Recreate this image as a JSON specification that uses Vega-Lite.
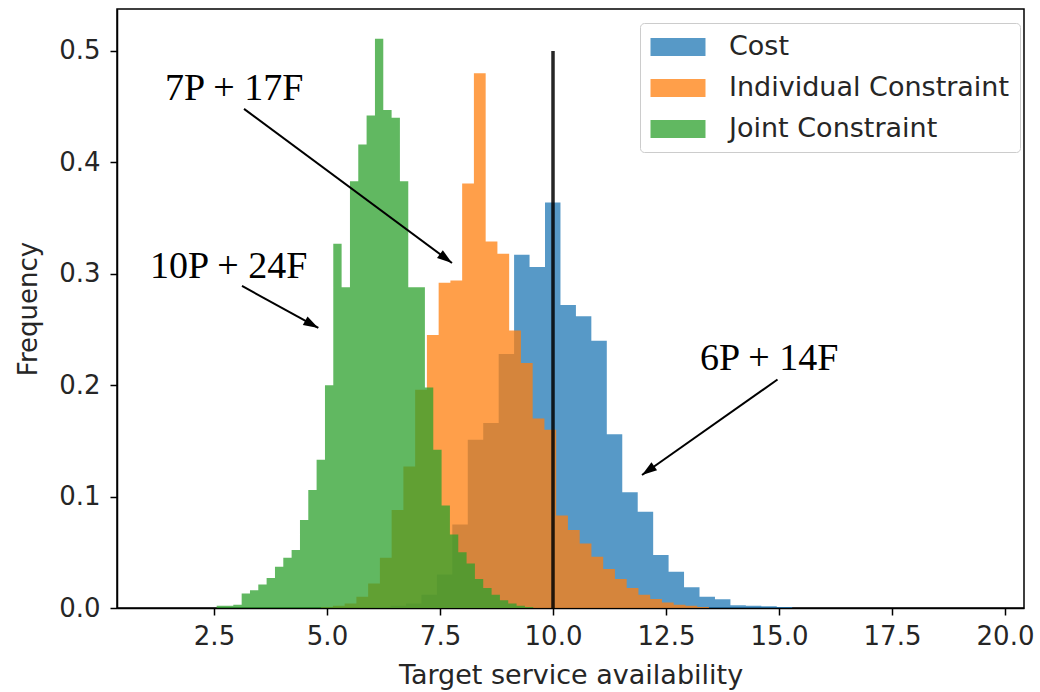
{
  "$schema": "https://vega.github.io/schema/vega-lite/v6.json",
  "width": 907,
  "height": 599,
  "autosize": {"type": "none"},
  "padding": {"left": 117, "top": 9, "right": 16, "bottom": 84},
  "background": "white",
  "datasets": {
    "hist": [
      {"series": "Cost", "start": 5.722, "end": 6.063, "freq": 0.0005},
      {"series": "Cost", "start": 6.063, "end": 6.405, "freq": 0.001},
      {"series": "Cost", "start": 6.405, "end": 6.747, "freq": 0.002},
      {"series": "Cost", "start": 6.747, "end": 7.089, "freq": 0.004},
      {"series": "Cost", "start": 7.089, "end": 7.431, "freq": 0.012},
      {"series": "Cost", "start": 7.431, "end": 7.772, "freq": 0.03},
      {"series": "Cost", "start": 7.772, "end": 8.114, "freq": 0.075},
      {"series": "Cost", "start": 8.114, "end": 8.456, "freq": 0.151},
      {"series": "Cost", "start": 8.456, "end": 8.798, "freq": 0.166},
      {"series": "Cost", "start": 8.798, "end": 9.139, "freq": 0.228},
      {"series": "Cost", "start": 9.139, "end": 9.481, "freq": 0.317},
      {"series": "Cost", "start": 9.481, "end": 9.823, "freq": 0.306},
      {"series": "Cost", "start": 9.823, "end": 10.165, "freq": 0.364},
      {"series": "Cost", "start": 10.165, "end": 10.507, "freq": 0.272},
      {"series": "Cost", "start": 10.507, "end": 10.848, "freq": 0.262},
      {"series": "Cost", "start": 10.848, "end": 11.19, "freq": 0.24},
      {"series": "Cost", "start": 11.19, "end": 11.532, "freq": 0.156},
      {"series": "Cost", "start": 11.532, "end": 11.874, "freq": 0.104},
      {"series": "Cost", "start": 11.874, "end": 12.216, "freq": 0.0865},
      {"series": "Cost", "start": 12.216, "end": 12.557, "freq": 0.0476},
      {"series": "Cost", "start": 12.557, "end": 12.899, "freq": 0.0326},
      {"series": "Cost", "start": 12.899, "end": 13.241, "freq": 0.0186},
      {"series": "Cost", "start": 13.241, "end": 13.583, "freq": 0.0101},
      {"series": "Cost", "start": 13.583, "end": 13.925, "freq": 0.0078},
      {"series": "Cost", "start": 13.925, "end": 14.266, "freq": 0.0025},
      {"series": "Cost", "start": 14.266, "end": 14.608, "freq": 0.002},
      {"series": "Cost", "start": 14.608, "end": 14.95, "freq": 0.0015},
      {"series": "Cost", "start": 14.95, "end": 15.292, "freq": 0.0008},
      {"series": "Individual Constraint", "start": 4.87, "end": 5.13, "freq": 0.001},
      {"series": "Individual Constraint", "start": 5.13, "end": 5.39, "freq": 0.002},
      {"series": "Individual Constraint", "start": 5.39, "end": 5.65, "freq": 0.004},
      {"series": "Individual Constraint", "start": 5.65, "end": 5.91, "freq": 0.01},
      {"series": "Individual Constraint", "start": 5.91, "end": 6.17, "freq": 0.022},
      {"series": "Individual Constraint", "start": 6.17, "end": 6.43, "freq": 0.045},
      {"series": "Individual Constraint", "start": 6.43, "end": 6.69, "freq": 0.088},
      {"series": "Individual Constraint", "start": 6.69, "end": 6.95, "freq": 0.127},
      {"series": "Individual Constraint", "start": 6.95, "end": 7.21, "freq": 0.196},
      {"series": "Individual Constraint", "start": 7.21, "end": 7.47, "freq": 0.245},
      {"series": "Individual Constraint", "start": 7.47, "end": 7.73, "freq": 0.292},
      {"series": "Individual Constraint", "start": 7.73, "end": 7.99, "freq": 0.294},
      {"series": "Individual Constraint", "start": 7.99, "end": 8.25, "freq": 0.381},
      {"series": "Individual Constraint", "start": 8.25, "end": 8.51, "freq": 0.48},
      {"series": "Individual Constraint", "start": 8.51, "end": 8.77, "freq": 0.329},
      {"series": "Individual Constraint", "start": 8.77, "end": 9.03, "freq": 0.318},
      {"series": "Individual Constraint", "start": 9.03, "end": 9.29, "freq": 0.249},
      {"series": "Individual Constraint", "start": 9.29, "end": 9.55, "freq": 0.22},
      {"series": "Individual Constraint", "start": 9.55, "end": 9.81, "freq": 0.17},
      {"series": "Individual Constraint", "start": 9.81, "end": 10.07, "freq": 0.16},
      {"series": "Individual Constraint", "start": 10.07, "end": 10.33, "freq": 0.083},
      {"series": "Individual Constraint", "start": 10.33, "end": 10.59, "freq": 0.07},
      {"series": "Individual Constraint", "start": 10.59, "end": 10.85, "freq": 0.058},
      {"series": "Individual Constraint", "start": 10.85, "end": 11.11, "freq": 0.046},
      {"series": "Individual Constraint", "start": 11.11, "end": 11.37, "freq": 0.035},
      {"series": "Individual Constraint", "start": 11.37, "end": 11.63, "freq": 0.026},
      {"series": "Individual Constraint", "start": 11.63, "end": 11.89, "freq": 0.018},
      {"series": "Individual Constraint", "start": 11.89, "end": 12.15, "freq": 0.012},
      {"series": "Individual Constraint", "start": 12.15, "end": 12.41, "freq": 0.008},
      {"series": "Individual Constraint", "start": 12.41, "end": 12.67, "freq": 0.005},
      {"series": "Individual Constraint", "start": 12.67, "end": 12.93, "freq": 0.003},
      {"series": "Individual Constraint", "start": 12.93, "end": 13.19, "freq": 0.002},
      {"series": "Individual Constraint", "start": 13.19, "end": 13.45, "freq": 0.001},
      {"series": "Joint Constraint", "start": 2.559, "end": 2.743, "freq": 0.002},
      {"series": "Joint Constraint", "start": 2.743, "end": 2.927, "freq": 0.002},
      {"series": "Joint Constraint", "start": 2.927, "end": 3.112, "freq": 0.003},
      {"series": "Joint Constraint", "start": 3.112, "end": 3.296, "freq": 0.013},
      {"series": "Joint Constraint", "start": 3.296, "end": 3.48, "freq": 0.016},
      {"series": "Joint Constraint", "start": 3.48, "end": 3.664, "freq": 0.021},
      {"series": "Joint Constraint", "start": 3.664, "end": 3.849, "freq": 0.027},
      {"series": "Joint Constraint", "start": 3.849, "end": 4.033, "freq": 0.037},
      {"series": "Joint Constraint", "start": 4.033, "end": 4.217, "freq": 0.045},
      {"series": "Joint Constraint", "start": 4.217, "end": 4.402, "freq": 0.052},
      {"series": "Joint Constraint", "start": 4.402, "end": 4.586, "freq": 0.079},
      {"series": "Joint Constraint", "start": 4.586, "end": 4.77, "freq": 0.106},
      {"series": "Joint Constraint", "start": 4.77, "end": 4.955, "freq": 0.133},
      {"series": "Joint Constraint", "start": 4.955, "end": 5.139, "freq": 0.2},
      {"series": "Joint Constraint", "start": 5.139, "end": 5.323, "freq": 0.327},
      {"series": "Joint Constraint", "start": 5.323, "end": 5.508, "freq": 0.288},
      {"series": "Joint Constraint", "start": 5.508, "end": 5.692, "freq": 0.383},
      {"series": "Joint Constraint", "start": 5.692, "end": 5.876, "freq": 0.416},
      {"series": "Joint Constraint", "start": 5.876, "end": 6.061, "freq": 0.442},
      {"series": "Joint Constraint", "start": 6.061, "end": 6.245, "freq": 0.511},
      {"series": "Joint Constraint", "start": 6.245, "end": 6.429, "freq": 0.447},
      {"series": "Joint Constraint", "start": 6.429, "end": 6.613, "freq": 0.44},
      {"series": "Joint Constraint", "start": 6.613, "end": 6.798, "freq": 0.383},
      {"series": "Joint Constraint", "start": 6.798, "end": 6.982, "freq": 0.288},
      {"series": "Joint Constraint", "start": 6.982, "end": 7.166, "freq": 0.288},
      {"series": "Joint Constraint", "start": 7.166, "end": 7.351, "freq": 0.198},
      {"series": "Joint Constraint", "start": 7.351, "end": 7.535, "freq": 0.142},
      {"series": "Joint Constraint", "start": 7.535, "end": 7.719, "freq": 0.092},
      {"series": "Joint Constraint", "start": 7.719, "end": 7.904, "freq": 0.066},
      {"series": "Joint Constraint", "start": 7.904, "end": 8.088, "freq": 0.05},
      {"series": "Joint Constraint", "start": 8.088, "end": 8.272, "freq": 0.04},
      {"series": "Joint Constraint", "start": 8.272, "end": 8.456, "freq": 0.026},
      {"series": "Joint Constraint", "start": 8.456, "end": 8.641, "freq": 0.018},
      {"series": "Joint Constraint", "start": 8.641, "end": 8.825, "freq": 0.012},
      {"series": "Joint Constraint", "start": 8.825, "end": 9.009, "freq": 0.007},
      {"series": "Joint Constraint", "start": 9.009, "end": 9.194, "freq": 0.004},
      {"series": "Joint Constraint", "start": 9.194, "end": 9.378, "freq": 0.002},
      {"series": "Joint Constraint", "start": 9.378, "end": 9.562, "freq": 0.001}
    ],
    "vline": [{"x": 10, "y": 0, "y2": 0.5}],
    "arrows": [
      {"label": "7P + 17F", "x": 3.164, "y": 0.448, "tipx": 7.765, "tipy": 0.3097},
      {"label": "10P + 24F", "x": 3.119, "y": 0.2891, "tipx": 4.808, "tipy": 0.2514},
      {"label": "6P + 14F", "x": 14.967, "y": 0.2051, "tipx": 11.969, "tipy": 0.1194}
    ],
    "labels": [
      {"label": "7P + 17F", "x": 1.416, "y": 0.456},
      {"label": "10P + 24F", "x": 1.084, "y": 0.2962},
      {"label": "6P + 14F", "x": 13.252, "y": 0.2137}
    ]
  },
  "layer": [
    {
      "data": {"name": "hist"},
      "transform": [{"filter": "datum.series === 'Cost'"}, {"fold": ["start", "end"], "as": ["edge", "pos"]}],
      "mark": {"type": "area", "opacity": 0.75},
      "encoding": {
        "x": {"field": "pos", "type": "quantitative",
          "scale": {"domain": [0.354, 20.42], "nice": false, "zero": false},
          "axis": {"title": "Target service availability", "titleFontSize": 27, "values": [2.5, 5, 7.5, 10, 12.5, 15, 17.5, 20], "format": ".1f"}},
        "y": {"field": "freq", "type": "quantitative", "stack": null,
          "scale": {"domain": [0, 0.5377], "nice": false},
          "axis": {"title": "Frequency", "values": [0, 0.1, 0.2, 0.3, 0.4, 0.5], "format": ".1f"}},
        "order": [{"field": "pos", "type": "quantitative"}, {"field": "edge", "type": "nominal"}],
        "color": {"field": "series", "type": "nominal",
          "scale": {"domain": ["Cost", "Individual Constraint", "Joint Constraint"], "range": ["#1f77b4", "#ff7f0e", "#2ca02c"]},
          "legend": {"title": null, "symbolType": "M-2,-0.66H2V0.66H-2Z", "symbolSize": 756, "symbolOffset": 14, "labelOffset": 37, "padding": 10, "rowPadding": 14, "labelLimit": 600}}
      }
    },
    {
      "data": {"name": "hist"},
      "transform": [{"filter": "datum.series === 'Individual Constraint'"}, {"fold": ["start", "end"], "as": ["edge", "pos"]}],
      "mark": {"type": "area", "opacity": 0.75},
      "encoding": {
        "x": {"field": "pos", "type": "quantitative", "scale": {"domain": [0.354, 20.42], "nice": false, "zero": false}},
        "y": {"field": "freq", "type": "quantitative", "stack": null, "scale": {"domain": [0, 0.5377], "nice": false}},
        "order": [{"field": "pos", "type": "quantitative"}, {"field": "edge", "type": "nominal"}],
        "color": {"field": "series", "type": "nominal"}
      }
    },
    {
      "data": {"name": "hist"},
      "transform": [{"filter": "datum.series === 'Joint Constraint'"}, {"fold": ["start", "end"], "as": ["edge", "pos"]}],
      "mark": {"type": "area", "opacity": 0.75},
      "encoding": {
        "x": {"field": "pos", "type": "quantitative", "scale": {"domain": [0.354, 20.42], "nice": false, "zero": false}},
        "y": {"field": "freq", "type": "quantitative", "stack": null, "scale": {"domain": [0, 0.5377], "nice": false}},
        "order": [{"field": "pos", "type": "quantitative"}, {"field": "edge", "type": "nominal"}],
        "color": {"field": "series", "type": "nominal"}
      }
    },
    {
      "data": {"name": "vline"},
      "mark": {"type": "rule", "color": "#000", "strokeWidth": 3.5, "opacity": 0.85},
      "encoding": {
        "x": {"field": "x", "type": "quantitative", "scale": {"domain": [0.354, 20.42], "nice": false, "zero": false}},
        "y": {"field": "y", "type": "quantitative", "scale": {"domain": [0, 0.5377], "nice": false}},
        "y2": {"field": "y2"}
      }
    },
    {
      "data": {"name": "arrows"},
      "mark": {"type": "rule", "color": "#000", "strokeWidth": 2},
      "encoding": {
        "x": {"field": "x", "type": "quantitative", "scale": {"domain": [0.354, 20.42], "nice": false, "zero": false}},
        "y": {"field": "y", "type": "quantitative", "scale": {"domain": [0, 0.5377], "nice": false}},
        "x2": {"field": "tipx"},
        "y2": {"field": "tipy"}
      }
    },
    {
      "data": {"name": "arrows"},
      "transform": [{"filter": "datum.label === '7P + 17F'"}],
      "mark": {"type": "point", "shape": "M0,0L-0.65,2L0.65,2Z", "filled": true, "color": "#000", "opacity": 1, "size": 225, "angle": 126.5},
      "encoding": {
        "x": {"field": "tipx", "type": "quantitative", "scale": {"domain": [0.354, 20.42], "nice": false, "zero": false}},
        "y": {"field": "tipy", "type": "quantitative", "scale": {"domain": [0, 0.5377], "nice": false}}
      }
    },
    {
      "data": {"name": "arrows"},
      "transform": [{"filter": "datum.label === '10P + 24F'"}],
      "mark": {"type": "point", "shape": "M0,0L-0.65,2L0.65,2Z", "filled": true, "color": "#000", "opacity": 1, "size": 225, "angle": 118.8},
      "encoding": {
        "x": {"field": "tipx", "type": "quantitative", "scale": {"domain": [0.354, 20.42], "nice": false, "zero": false}},
        "y": {"field": "tipy", "type": "quantitative", "scale": {"domain": [0, 0.5377], "nice": false}}
      }
    },
    {
      "data": {"name": "arrows"},
      "transform": [{"filter": "datum.label === '6P + 14F'"}],
      "mark": {"type": "point", "shape": "M0,0L-0.65,2L0.65,2Z", "filled": true, "color": "#000", "opacity": 1, "size": 225, "angle": 234.8},
      "encoding": {
        "x": {"field": "tipx", "type": "quantitative", "scale": {"domain": [0.354, 20.42], "nice": false, "zero": false}},
        "y": {"field": "tipy", "type": "quantitative", "scale": {"domain": [0, 0.5377], "nice": false}}
      }
    },
    {
      "data": {"name": "labels"},
      "mark": {"type": "text", "font": "Liberation Serif", "fontSize": 38, "align": "left", "baseline": "alphabetic", "color": "#000"},
      "encoding": {
        "x": {"field": "x", "type": "quantitative", "scale": {"domain": [0.354, 20.42], "nice": false, "zero": false}},
        "y": {"field": "y", "type": "quantitative", "scale": {"domain": [0, 0.5377], "nice": false}},
        "text": {"field": "label"}
      }
    }
  ],
  "config": {
    "view": {"stroke": "#000", "strokeWidth": 1.5},
    "font": "DejaVu Sans",
    "axis": {
      "grid": false,
      "labelFont": "DejaVu Sans",
      "labelFontSize": 26,
      "labelColor": "#262626",
      "titleFont": "DejaVu Sans",
      "titleFontSize": 26,
      "titleFontWeight": "normal",
      "titleColor": "#262626",
      "tickSize": 7,
      "tickWidth": 1.5,
      "tickColor": "#000",
      "domainColor": "#000",
      "domainWidth": 1.5,
      "labelOverlap": false,
      "labelFlush": false
    },
    "axisX": {"labelPadding": 8, "titlePadding": 13},
    "axisY": {"labelPadding": 10, "titlePadding": 17},
    "legend": {
      "orient": "none",
      "legendX": 523,
      "legendY": 14,
      "fillColor": "rgba(255,255,255,0.8)",
      "strokeColor": "#cccccc",
      "cornerRadius": 4,
      "labelFont": "DejaVu Sans",
      "labelFontSize": 27,
      "labelColor": "#262626",
      "symbolOpacity": 0.75,
      "symbolStrokeWidth": 0
    }
  }
}
